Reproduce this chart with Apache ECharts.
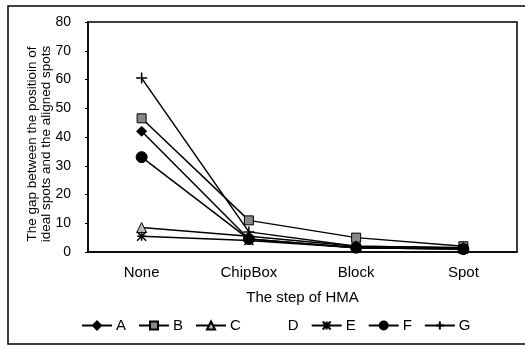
<!DOCTYPE html>
<html><head><meta charset="utf-8">
<script src="https://cdn.jsdelivr.net/npm/echarts@6/dist/echarts.min.js"></script>
<style>html,body{margin:0;padding:0;background:#fff}#c{width:525px;height:351px}</style>
</head><body><div id="c"></div>
<script>
var categories = ['None', 'ChipBox', 'Block', 'Spot'];
var seriesNames = ['A', 'B', 'C', 'D', 'E', 'F', 'G'];
var valuesA = [42, 4.5, 1.5, 1];
var valuesB = [46.5, 11, 5, 2];
var valuesC = [8.5, 5.5, 2, 1.5];
var valuesD = [7, 5, 1.5, 1];
var valuesE = [5.5, 4, 1.5, 1];
var valuesF = [33, 4.5, 1.5, 1];
var valuesG = [60.5, 7, 2, 1.5];
var yTicks = [0, 10, 20, 30, 40, 50, 60, 70, 80];

var FONT = 'Liberation Sans';
var chart = echarts.init(document.getElementById('c'), null, {renderer: 'canvas'});
function mk(name, data, symbol, size, color, extra) {
  var s = {
    name: name, type: 'line', data: data, symbol: symbol, symbolSize: size,
    lineStyle: {color: name === 'D' ? '#ffffff' : '#000', width: 1.5},
    itemStyle: {color: color, borderColor: name === 'D' ? '#ffffff' : '#000', borderWidth: 1},
    z: name === 'D' ? 1 : 3, showSymbol: true, animation: false
  };
  if (extra) Object.assign(s, extra);
  return s;
}
var asterisk = 'path://M0,0L10,10M10,0L0,10M5,0L5,10M0,5L10,5';
var plus = 'path://M5,0L5,10M0,5L10,5';
chart.setOption({
  backgroundColor: '#fff',
  animation: false,
  grid: {left: 88, top: 22, right: 8, bottom: 99, show: true, borderColor: '#000', borderWidth: 1.5, backgroundColor: 'transparent'},
  xAxis: {
    type: 'category', data: categories, boundaryGap: true,
    axisLine: {show: true, lineStyle: {color: '#000', width: 1.5}},
    axisTick: {show: false},
    axisLabel: {fontFamily: FONT, fontSize: 15, color: '#000', margin: 13},
    name: 'The step of HMA', nameLocation: 'middle', nameGap: 38,
    nameTextStyle: {fontFamily: FONT, fontSize: 15, color: '#000'}
  },
  yAxis: {
    type: 'value', min: 0, max: 80, interval: 10,
    axisLine: {show: true, lineStyle: {color: '#000', width: 1.5}},
    axisTick: {show: true, length: 3, lineStyle: {color: '#000'}},
    splitLine: {show: false},
    axisLabel: {fontFamily: FONT, fontSize: 14, color: '#000', margin: 17,
      formatter: function (v) { return yTicks.indexOf(v) >= 0 ? String(v) : ''; }},
    name: 'The gap between the positioin of\nideal spots and the aligned spots',
    nameLocation: 'middle', nameGap: 35, nameMoveOverlap: false,
    nameTextStyle: {fontFamily: FONT, fontSize: 13.5, color: '#000', lineHeight: 14, padding: [0, 14, 0, 0]}
  },
  legend: {
    left: 76, top: 313, itemWidth: 30, itemHeight: 10, itemGap: 12,
    textStyle: {fontFamily: FONT, fontSize: 15, color: '#000', padding: [0, 0, 0, -1]},
    data: seriesNames
  },
  graphic: [
    {type: 'rect', shape: {x: 8, y: 6, width: 530, height: 338}, style: {fill: 'none', stroke: '#000', lineWidth: 1.5}, silent: true, z: -1}
  ],
  series: [
    mk('A', valuesA, 'diamond', 10, '#000'),
    mk('B', valuesB, 'rect', 9, '#888'),
    mk('C', valuesC, 'triangle', 10, '#bbb'),
    mk('D', valuesD, 'none', 1, '#fff'),
    mk('E', valuesE, asterisk, 9, '#000', {itemStyle: {color: 'none', borderColor: '#000', borderWidth: 1.5}}),
    mk('F', valuesF, 'circle', 11, '#000'),
    mk('G', valuesG, plus, 11, '#000', {itemStyle: {color: 'none', borderColor: '#000', borderWidth: 1.5}})
  ]
});
</script></body></html>
